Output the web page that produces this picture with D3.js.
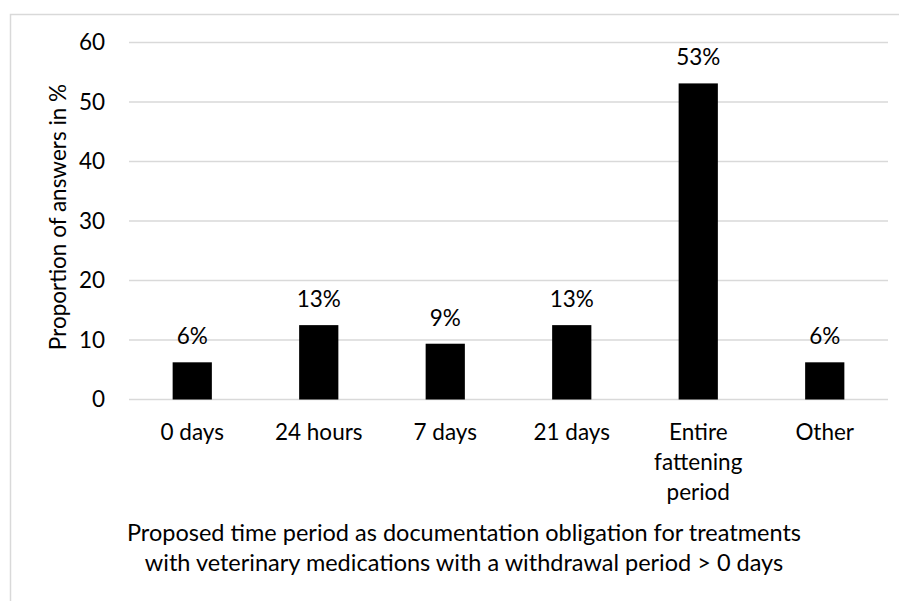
<!DOCTYPE html>
<html>
<head>
<meta charset="utf-8">
<script src="https://cdn.jsdelivr.net/npm/d3@7"></script>
<style>
  html, body { margin: 0; padding: 0; background: #fff; }
  svg { display: block; }
  text { font-family: Lato, "Open Sans", sans-serif; fill: #000; }
</style>
</head>
<body>
<svg id="chart" width="899" height="601"></svg>
<script>
// Survey answers (share of respondents, %)
const categories = ["0 days", "24 hours", "7 days", "21 days", "Entire fattening period", "Other"];
const categoryLines = [["0 days"], ["24 hours"], ["7 days"], ["21 days"], ["Entire", "fattening", "period"], ["Other"]];
const values = [6.25, 12.5, 9.375, 12.5, 53.125, 6.25];
const yTicks = [0, 10, 20, 30, 40, 50, 60];
const yTitle = "Proportion of answers in %";
const xTitleLines = [
  "Proposed time period as documentation obligation for treatments",
  "with veterinary medications with a withdrawal period > 0 days"
];

const svg = d3.select("#chart");
const fontSize = 22.5;
const titleSize = 23.5;

// Chart frame (open on the right and bottom)
svg.append("path")
  .attr("d", "M10.5,601 V14.5 H899")
  .attr("fill", "none")
  .attr("stroke", "#d9d9d9")
  .attr("stroke-width", 1.5);

const x = d3.scaleBand()
  .domain(categories)
  .range([129, 888])
  .paddingInner(0.69)
  .paddingOuter(0.345);

const y = d3.scaleLinear()
  .domain([0, 60])
  .range([399.5, 42.5]);

// Gridlines
svg.append("g")
  .selectAll("line")
  .data(yTicks)
  .join("line")
  .attr("x1", 129)
  .attr("x2", 888)
  .attr("y1", d => y(d))
  .attr("y2", d => y(d))
  .attr("stroke", "#d9d9d9")
  .attr("stroke-width", 1.5);

// Y axis tick labels
const yAxis = d3.axisLeft(y).tickValues(yTicks).tickSize(0).tickPadding(0);
const yg = svg.append("g").attr("transform", "translate(105,0)").call(yAxis);
yg.select(".domain").remove();
yg.selectAll("text")
  .attr("font-size", fontSize)
  .attr("font-family", "Lato, 'Open Sans', sans-serif")
  .attr("fill", "#000");

// Bars
svg.append("g")
  .selectAll("rect")
  .data(values)
  .join("rect")
  .attr("x", (d, i) => x(categories[i]))
  .attr("width", x.bandwidth())
  .attr("y", d => y(d))
  .attr("height", d => y(0) - y(d))
  .attr("fill", "#000");

// Value labels
const fmt = v => d3.format(".0f")(v) + "%";
svg.append("g")
  .selectAll("text")
  .data(values)
  .join("text")
  .attr("x", (d, i) => x(categories[i]) + x.bandwidth() / 2)
  .attr("y", d => y(d) - 18)
  .attr("text-anchor", "middle")
  .attr("font-size", fontSize)
  .text(d => fmt(d));

// Category labels (wrapped)
const cat = svg.append("g")
  .selectAll("text")
  .data(categoryLines)
  .join("text")
  .attr("text-anchor", "middle")
  .attr("font-size", fontSize)
  .attr("x", (d, i) => x(categories[i]) + x.bandwidth() / 2);
cat.selectAll("tspan")
  .data((d, i) => d.map(t => ({ t, i })))
  .join("tspan")
  .attr("x", d => x(categories[d.i]) + x.bandwidth() / 2)
  .attr("y", (d, j) => 440 + j * 30)
  .text(d => d.t);

// Y axis title
svg.append("text")
  .attr("transform", "translate(66,217) rotate(-90)")
  .attr("text-anchor", "middle")
  .attr("font-size", fontSize)
  .text(yTitle);

// X axis title
svg.append("g")
  .selectAll("text")
  .data(xTitleLines)
  .join("text")
  .attr("x", 464)
  .attr("y", (d, i) => 541 + i * 30)
  .attr("text-anchor", "middle")
  .attr("font-size", titleSize)
  .text(d => d);
</script>
</body>
</html>
